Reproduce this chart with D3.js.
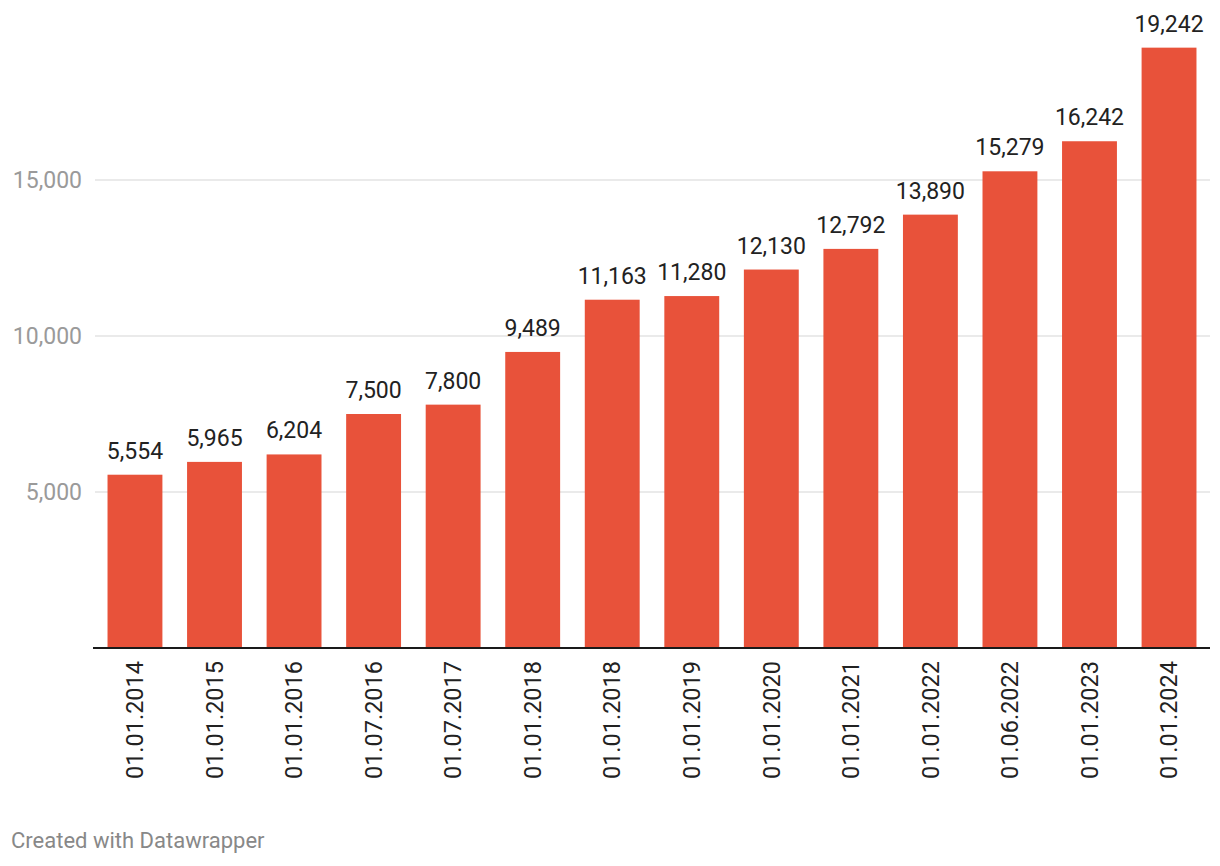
<!DOCTYPE html>
<html><head><meta charset="utf-8">
<script src="https://cdn.jsdelivr.net/npm/d3@7"></script>
<style>
body{margin:0;background:#fff;font-family:Roboto,"Noto Sans",sans-serif;}
</style></head>
<body>
<svg id="c" width="1220" height="866"></svg>
<script>
const categories = ["01.01.2014","01.01.2015","01.01.2016","01.07.2016","01.07.2017","01.01.2018","01.01.2018","01.01.2019","01.01.2020","01.01.2021","01.01.2022","01.06.2022","01.01.2023","01.01.2024"];
const values = [5554,5965,6204,7500,7800,9489,11163,11280,12130,12792,13890,15279,16242,19242];
const yTicks = [5000,10000,15000];

const svg = d3.select("#c");
const fmt = d3.format(",");
const idx = categories.map((d,i)=>i);
const x = d3.scaleBand().domain(idx).range([94,1210]).paddingInner(0.31).paddingOuter(0.17);
const y = d3.scaleLinear().domain([0,20000]).range([648,24]);

// gridlines
const g = svg.append("g");
g.selectAll("line.grid").data(yTicks).join("line")
  .attr("x1",95).attr("x2",1210)
  .attr("y1",d=>y(d)).attr("y2",d=>y(d))
  .attr("stroke","#e3e3e3").attr("stroke-width",1.5);
g.selectAll("text.yl").data(yTicks).join("text")
  .attr("x",82).attr("y",d=>y(d)).attr("dy","0.35em")
  .attr("text-anchor","end").attr("fill","#9a9a9a")
  .style("font-size","23px").text(d=>fmt(d));

// bars
svg.append("g").selectAll("rect").data(values).join("rect")
  .attr("x",(d,i)=>x(i)).attr("width",x.bandwidth())
  .attr("y",d=>y(d)).attr("height",d=>y(0)-y(d))
  .attr("fill","#e8523a");

// value labels
svg.append("g").selectAll("text").data(values).join("text")
  .attr("x",(d,i)=>x(i)+x.bandwidth()/2).attr("y",d=>y(d)-16)
  .attr("text-anchor","middle").attr("fill","#222")
  .style("font-size","23px").text(d=>fmt(d));

// baseline
svg.append("line").attr("x1",93).attr("x2",1210).attr("y1",y(0)).attr("y2",y(0))
  .attr("stroke","#1a1a1a").attr("stroke-width",2);

// x axis labels
svg.append("g").selectAll("text").data(categories).join("text")
  .attr("transform",(d,i)=>`translate(${x(i)+x.bandwidth()/2},661) rotate(-90)`)
  .attr("text-anchor","end").attr("dy","0.35em").attr("fill","#222")
  .style("font-size","23.5px").text(d=>d);

// credit
svg.append("text").attr("x",11).attr("y",848).attr("fill","#888")
  .style("font-size","22px").text("Created with Datawrapper");
</script>
</body></html>
